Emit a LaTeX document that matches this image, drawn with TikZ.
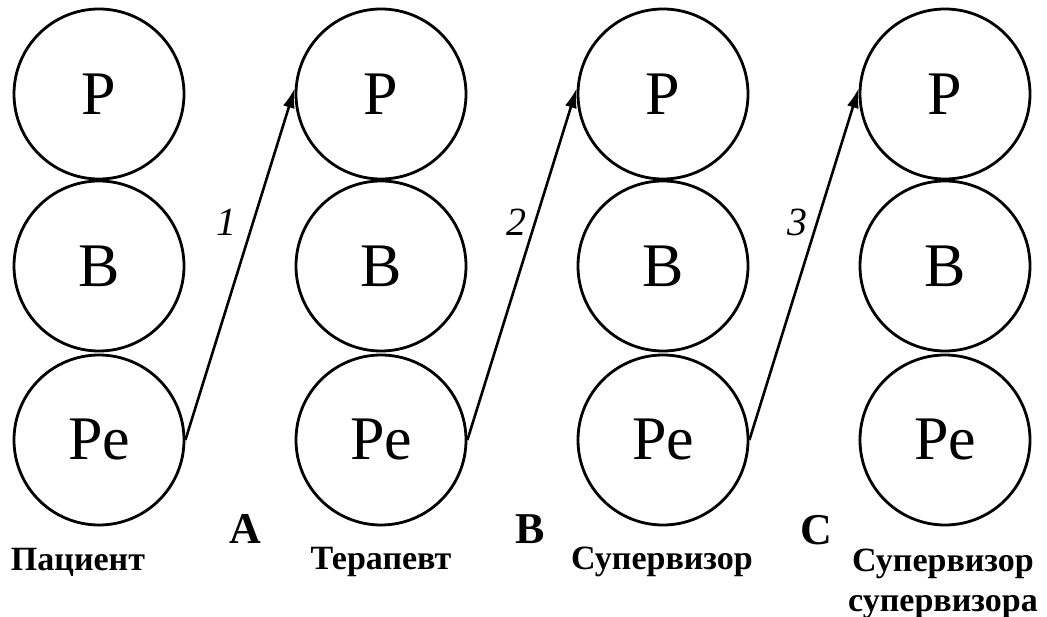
\documentclass[tikz,border=0pt]{standalone}
\usepackage{fontspec}
\setmainfont{Liberation Serif}
\usetikzlibrary{arrows.meta}
\begin{document}
\begin{tikzpicture}[x=1pt,y=-1pt,
  ego/.style={circle,draw,line width=2.8pt,minimum size=170pt,inner sep=0pt,
    font=\fontsize{62}{62}\selectfont},
  arr/.style={line width=2.6pt,-{Latex[length=20pt,width=12pt]}},
  num/.style={font=\fontsize{40}{40}\selectfont\itshape},
  letter/.style={font=\fontsize{44}{44}\selectfont\bfseries},
  role/.style={font=\fontsize{34}{40}\selectfont\bfseries,align=center}]
\useasboundingbox (0,0) rectangle (1047,617);
\foreach \i/\x in {1/99,2/381,3/663,4/945}{
  \node[ego] (P\i) at (\x,94) {Р};
  \node[ego] (B\i) at (\x,266) {В};
  \node[ego] (Pe\i) at (\x,440) {Ре};
}
\draw[arr] (Pe1.east) -- (P2.176);
\draw[arr] (Pe2.east) -- (P3.176);
\draw[arr] (Pe3.east) -- (P4.176);
\node[num] (n1) at (226,222) {1};
\node[num] (n2) at (516,222) {2};
\node[num] (n3) at (797,222) {3};
\node[letter] (LA) at (245,529) {A};
\node[letter] (LB) at (530,529) {B};
\node[letter] (LC) at (816,530) {C};
\node[role] (r1) at (78,562) {Пациент};
\node[role] (r2) at (381,562) {Терапевт};
\node[role] (r3) at (662,562) {Супервизор};
\node[role,anchor=north] (r4) at (943,545) {Супервизор\\супервизора};
\end{tikzpicture}
\end{document}
